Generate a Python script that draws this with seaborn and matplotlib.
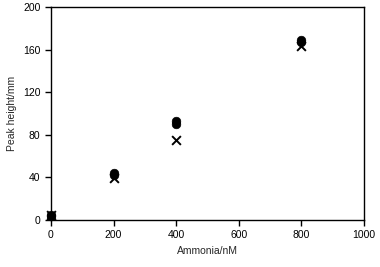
import matplotlib
matplotlib.use("Agg")
import matplotlib.pyplot as plt
import seaborn as sns
import pandas as pd

ammonia_circle = [0, 0, 200, 200, 400, 400, 800, 800]
peak_circle = [4, 5, 42, 44, 90, 93, 167, 169]
ammonia_cross = [0, 200, 400, 800]
peak_cross = [5, 39, 75, 163]

xticks = [0, 200, 400, 600, 800, 1000]
yticks = [0, 40, 80, 120, 160, 200]

sns.set_style("ticks")
plt.rcParams['font.family'] = ['Liberation Sans', 'DejaVu Sans']

fig = plt.figure(figsize=(3.8, 2.67), dpi=100)
ax = fig.add_axes([0.134, 0.176, 0.824, 0.798])

df1 = pd.DataFrame({"x": ammonia_circle, "y": peak_circle})
df2 = pd.DataFrame({"x": ammonia_cross, "y": peak_cross})
sns.scatterplot(data=df1, x="x", y="y", ax=ax, marker="o", color="black",
                s=38, edgecolor="black", linewidth=0.5, zorder=3)
sns.scatterplot(data=df2, x="x", y="y", ax=ax, marker="x", color="black",
                s=40, linewidth=1.4, zorder=4)

ax.set_xlim(0, 1000)
ax.set_ylim(0, 200)
ax.set_xticks(xticks)
ax.set_yticks(yticks)
ax.set_xlabel("Ammonia/nM", fontsize=7.5, labelpad=4)
ax.set_ylabel("Peak height/mm", fontsize=7.5, labelpad=4)
ax.tick_params(axis="both", labelsize=7.5, length=4, width=1, direction="out",
               color="black", labelcolor="black", top=False, right=False)
for s in ax.spines.values():
    s.set_visible(True)
    s.set_color("black")
    s.set_linewidth(1.0)
ax.set_clip_on(False)
for c in ax.collections:
    c.set_clip_on(False)

fig.savefig("out.png", dpi=100)
